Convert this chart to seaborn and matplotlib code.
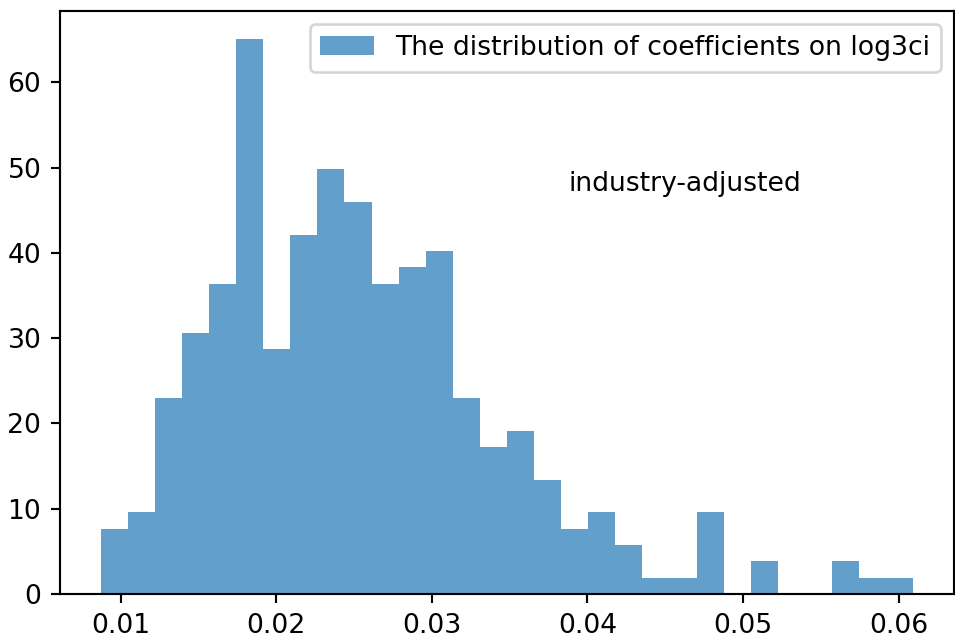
import numpy as np
import pandas as pd
import matplotlib
matplotlib.use("Agg")
import matplotlib.pyplot as plt
import seaborn as sns

# Histogram of estimated coefficients: 30 equal-width bins
bin_lo = 0.008715
bin_hi = 0.060944
n_bins = 30
counts = [4, 5, 12, 16, 19, 34, 15, 22, 26, 24, 19, 20, 21, 12, 9,
          10, 7, 4, 5, 3, 1, 1, 5, 0, 2, 0, 0, 2, 1, 1]
legend_label = "The distribution of coefficients on log3ci"
note_text = "industry-adjusted"

edges = np.linspace(bin_lo, bin_hi, n_bins + 1)
df = pd.DataFrame({"coef": (edges[:-1] + edges[1:]) / 2, "n": counts})

W, H, DPI = 955, 642, 192
fig = plt.figure(figsize=(W / DPI, H / DPI), dpi=DPI)
ax = fig.add_axes([60 / W, (H - 594) / H, (954 - 60) / W, (594 - 11) / H])

sns.histplot(data=df, x="coef", weights="n", bins=list(edges), stat="density",
             color="#1f77b4", alpha=0.7, linewidth=0, label=legend_label, ax=ax)

ax.set_xlabel("")
ax.set_ylabel("")
ax.set_xticks([0.01, 0.02, 0.03, 0.04, 0.05, 0.06])
ax.set_xticklabels(["0.01", "0.02", "0.03", "0.04", "0.05", "0.06"])
ax.legend(loc="upper right")
ax.text(0.0388, 47.3, note_text)

fig.savefig("out.png", dpi=DPI)
